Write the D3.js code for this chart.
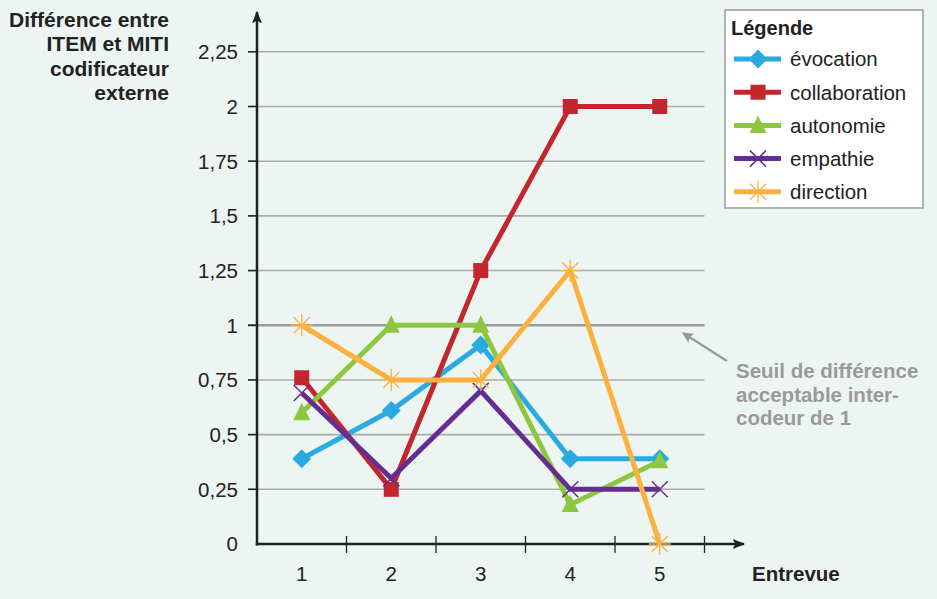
<!DOCTYPE html>
<html><head><meta charset="utf-8">
<script src="https://cdn.jsdelivr.net/npm/d3@7"></script>
<style>
body{margin:0;background:#edf5f2;}
svg{display:block;font-family:"Liberation Sans",Arial,sans-serif;}
</style></head>
<body>
<svg id="c" width="937" height="599"></svg>
<script>
const categories = ["1","2","3","4","5"];
const yTicks = [0,0.25,0.5,0.75,1,1.25,1.5,1.75,2,2.25];
const seriesNames = ["évocation","collaboration","autonomie","empathie","direction"];
const evocation =     [0.39, 0.61, 0.91, 0.39, 0.39];
const collaboration = [0.76, 0.25, 1.25, 2, 2];
const autonomie =     [0.60, 1, 1, 0.18, 0.38];
const empathie =      [0.69, 0.30, 0.70, 0.25, 0.25];
const direction =     [1, 0.75, 0.75, 1.25, 0];
const threshold = 1;
const yTitle = ["Différence entre","ITEM et MITI","codificateur","externe"];
const xTitle = "Entrevue";
const legendTitle = "Légende";
const note = ["Seuil de différence","acceptable inter-","codeur de 1"];

const colors = ["#29abe2","#c1272d","#8dc63f","#662d91","#fbb040"];
const shapes = ["diamond","square","triangle","cross","star"];
const values = [evocation,collaboration,autonomie,empathie,direction];

const svg = d3.select("#c");
const L=257, R=704.5, B=544;
const x = d3.scaleBand().domain(categories).range([L,R]);
const y = d3.scaleLinear().domain([0,2.25]).range([B,51.8]);

svg.append("g").selectAll("line").data(yTicks.filter(d=>d>0)).join("line")
  .attr("x1",L-9).attr("x2",R).attr("y1",d=>y(d)).attr("y2",d=>y(d))
  .attr("stroke",d=>d===threshold?"#9a9a9a":"#ababab")
  .attr("stroke-width",d=>d===threshold?2.5:1.6);
svg.append("g").selectAll("line").data(yTicks.filter(d=>d>0)).join("line")
  .attr("x1",L-9).attr("x2",L).attr("y1",d=>y(d)).attr("y2",d=>y(d))
  .attr("stroke","#222").attr("stroke-width",1.5);
svg.append("g").selectAll("text").data(yTicks).join("text")
  .attr("x",238).attr("y",d=>y(d)).attr("dy","0.36em").attr("text-anchor","end")
  .attr("font-size",20.5).attr("fill","#222")
  .text(d=>d3.format("")(d).replace(".",","));

const bounds = categories.map(c=>x(c)+x.bandwidth());
svg.append("g").selectAll("line").data(bounds).join("line")
  .attr("x1",d=>d).attr("x2",d=>d).attr("y1",B-8).attr("y2",B+9)
  .attr("stroke","#222").attr("stroke-width",1.3);
svg.append("g").selectAll("text").data(categories).join("text")
  .attr("x",d=>x(d)+x.bandwidth()/2).attr("y",581).attr("text-anchor","middle")
  .attr("font-size",20.5).attr("fill","#222").text(d=>d);
svg.append("text").attr("x",752).attr("y",581).attr("font-size",20.5).attr("font-weight","bold")
  .attr("fill","#222").text(xTitle);

svg.append("defs").append("marker").attr("id","arr").attr("viewBox","0 0 10 10")
  .attr("refX",9).attr("refY",5).attr("markerWidth",5).attr("markerHeight",5)
  .attr("markerUnits","strokeWidth").attr("orient","auto")
  .append("path").attr("d","M0,1 L10,5 L0,9 L2,5 Z").attr("fill","#222");
svg.append("line").attr("x1",L).attr("x2",L).attr("y1",B+1.5).attr("y2",12)
  .attr("stroke","#222").attr("stroke-width",2.5).attr("marker-end","url(#arr)");
svg.append("line").attr("x1",L-1.2).attr("x2",744).attr("y1",B).attr("y2",B)
  .attr("stroke","#222").attr("stroke-width",2.5).attr("marker-end","url(#arr)");

svg.append("g").selectAll("text").data(yTitle).join("text")
  .attr("x",169).attr("y",(d,i)=>27+i*24.3).attr("text-anchor","end")
  .attr("font-size",21).attr("font-weight","bold").attr("fill","#222").text(d=>d);

function marker(g, shape, color){
  if(shape==="diamond") g.append("path").attr("d","M0,-9.5 L9.5,0 L0,9.5 L-9.5,0Z").attr("fill",color);
  else if(shape==="square") g.append("rect").attr("x",-7.5).attr("y",-7.5).attr("width",15).attr("height",15).attr("fill",color);
  else if(shape==="triangle") g.append("path").attr("d","M0,-10 L8.5,7.5 L-8.5,7.5Z").attr("fill",color);
  else if(shape==="cross") g.append("path").attr("d","M-8,-8L8,8M-8,8L8,-8").attr("stroke",color).attr("stroke-width",1.5);
  else if(shape==="star") g.append("path").attr("d","M0,-11V11M-11,0H11M-8,-8L8,8M-8,8L8,-8").attr("stroke",color).attr("stroke-width",1.3);
}

const line = d3.line().x((d,i)=>x(categories[i])+x.bandwidth()/2).y(d=>y(d));
values.forEach((vals,k)=>{
  const g = svg.append("g");
  g.append("path").attr("d",line(vals)).attr("fill","none").attr("stroke",colors[k])
    .attr("stroke-width",5).attr("stroke-linejoin","miter");
  vals.forEach((v,i)=>{
    const m = g.append("g").attr("transform",`translate(${x(categories[i])+x.bandwidth()/2},${y(v)})`);
    marker(m, shapes[k], colors[k]);
  });
});

svg.append("defs").append("marker").attr("id","arr2").attr("viewBox","0 0 10 10")
  .attr("refX",9).attr("refY",5).attr("markerWidth",5).attr("markerHeight",5)
  .attr("markerUnits","strokeWidth").attr("orient","auto")
  .append("path").attr("d","M0,0 L10,5 L0,10 L2,5 Z").attr("fill","#999");
svg.append("line").attr("x1",727).attr("y1",361).attr("x2",683).attr("y2",333)
  .attr("stroke","#999").attr("stroke-width",2.2).attr("marker-end","url(#arr2)");
svg.append("g").selectAll("text").data(note).join("text")
  .attr("x",736).attr("y",(d,i)=>378+i*23.5).attr("font-size",20.5).attr("font-weight","bold")
  .attr("fill","#9a9a9a").text(d=>d);

const lg = svg.append("g");
lg.append("rect").attr("x",725).attr("y",10).attr("width",198).attr("height",198)
  .attr("fill","#fff").attr("stroke","#9a9a9a").attr("stroke-width",1.5);
lg.append("text").attr("x",731).attr("y",35).attr("font-size",20).attr("font-weight","bold")
  .attr("fill","#222").text(legendTitle);
seriesNames.forEach((n,k)=>{
  const cy = 59 + k*33.2;
  lg.append("line").attr("x1",734).attr("x2",781).attr("y1",cy).attr("y2",cy)
    .attr("stroke",colors[k]).attr("stroke-width",5);
  const m = lg.append("g").attr("transform",`translate(758,${cy})`);
  marker(m, shapes[k], colors[k]);
  lg.append("text").attr("x",790).attr("y",cy).attr("dy","0.36em").attr("font-size",20.5)
    .attr("fill","#222").text(n);
});
</script>
</body></html>
